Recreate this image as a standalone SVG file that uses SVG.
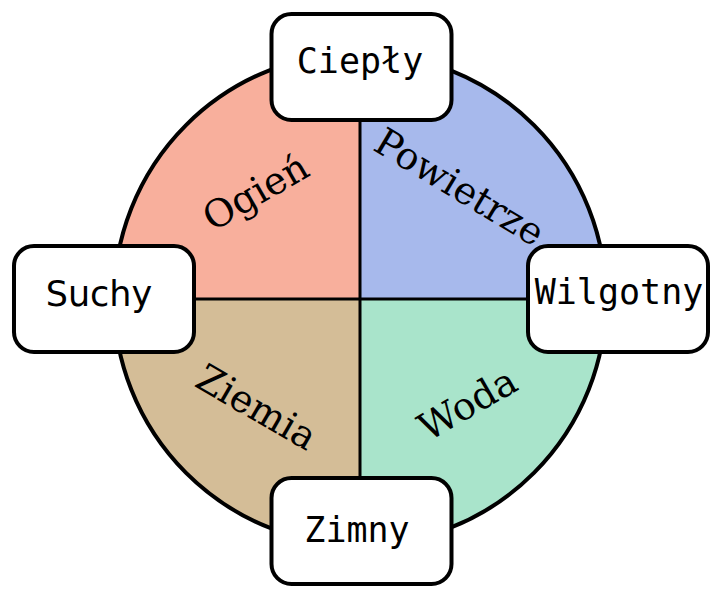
<svg xmlns="http://www.w3.org/2000/svg" width="722" height="600" viewBox="0 0 722 600">
  <style>
    .q { stroke: none; }
    .rim { fill: none; stroke: #000; stroke-width: 4; }
    .div { stroke: #000; stroke-width: 3; fill: none; }
    .box { fill: #fff; stroke: #000; stroke-width: 4; }
    .mono { font-family: "DejaVu Sans Mono", "Liberation Mono", monospace; font-size: 35px; fill: #000; text-anchor: middle; }
    .sans { font-family: "DejaVu Sans", "Liberation Sans", sans-serif; font-size: 35px; fill: #000; text-anchor: middle; }
    .serif { font-family: "DejaVu Serif", "Liberation Serif", serif; font-size: 38px; fill: #000; text-anchor: middle; }
  </style>
  <rect x="0" y="0" width="722" height="600" fill="#fff"/>

  <g id="ogien">
    <path class="q" fill="#f8af9c" d="M360,299 L360,53 A246,246 0 0 0 114,299 Z"/>
    <text class="serif" transform="translate(256,193) rotate(-30)" x="0" y="12">Ogień</text>
  </g>
  <g id="powietrze">
    <path class="q" fill="#a7b9ec" d="M360,299 L606,299 A246,246 0 0 0 360,53 Z"/>
    <text class="serif" transform="translate(459,188) rotate(31)" x="0" y="12">Powietrze</text>
  </g>
  <g id="ziemia">
    <path class="q" fill="#d4bd97" d="M360,299 L114,299 A246,246 0 0 0 360,545 Z"/>
    <text class="serif" transform="translate(256,408) rotate(30)" x="0" y="12">Ziemia</text>
  </g>
  <g id="woda">
    <path class="q" fill="#a9e4cb" d="M360,299 L360,545 A246,246 0 0 0 606,299 Z"/>
    <text class="serif" transform="translate(468,405) rotate(-30)" x="0" y="12">Woda</text>
  </g>

  <g id="connectors">
    <circle class="rim" cx="360" cy="299" r="246"/>
    <line class="div" x1="360" y1="60" x2="360" y2="540"/>
    <line class="div" x1="120" y1="299" x2="600" y2="299"/>
  </g>

  <g id="cieply">
    <rect class="box" x="271.5" y="14" width="180" height="106" rx="20"/>
    <text class="mono" x="360" y="73">Ciepły</text>
  </g>
  <g id="suchy">
    <rect class="box" x="14" y="246" width="180" height="106" rx="20"/>
    <text class="sans" x="99" y="306">Suchy</text>
  </g>
  <g id="wilgotny">
    <rect class="box" x="528" y="246" width="180" height="106" rx="20"/>
    <text class="mono" x="619" y="304">Wilgotny</text>
  </g>
  <g id="zimny">
    <rect class="box" x="271.5" y="478" width="180" height="106" rx="20"/>
    <text class="mono" x="357" y="542">Zimny</text>
  </g>
</svg>
